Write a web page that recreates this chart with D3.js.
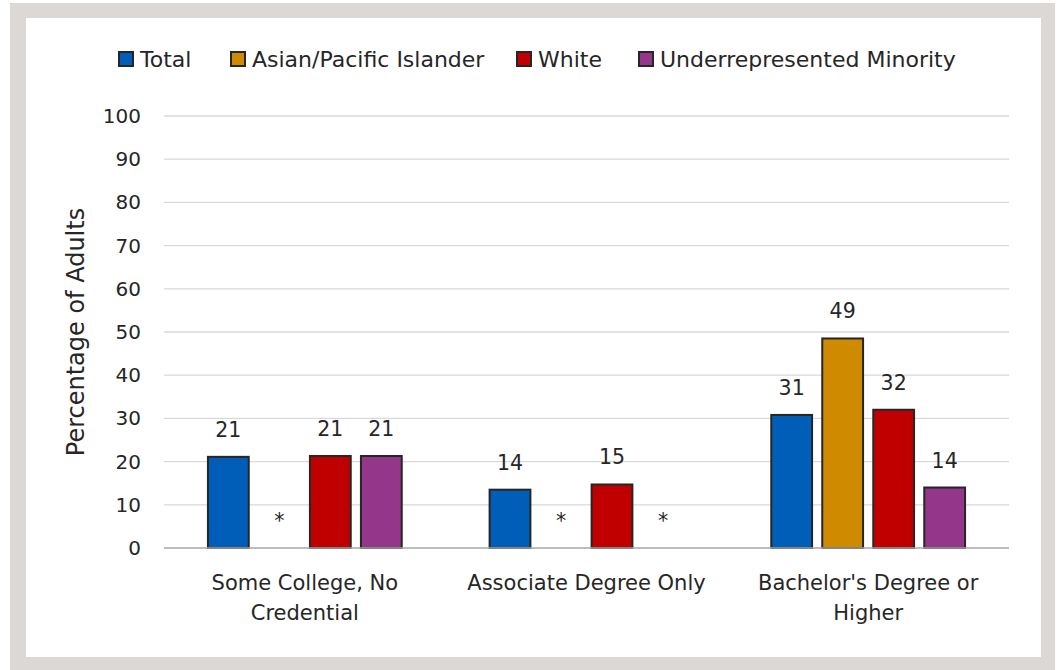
<!DOCTYPE html>
<html>
<head>
<meta charset="utf-8">
<script src="https://cdn.jsdelivr.net/npm/d3@7"></script>
<style>
  body { margin: 0; background: #fff; }
  svg { display: block; }
</style>
</head>
<body>
<div id="chart"></div>
<script>
// Chart data
const categories = ['Some College, No Credential', 'Associate Degree Only', "Bachelor's Degree or Higher"]
const categoryLines = [['Some College, No', 'Credential'], ['Associate Degree Only'], ["Bachelor's Degree or", 'Higher']]
const seriesNames = ['Total', 'Asian/Pacific Islander', 'White', 'Underrepresented Minority']
const seriesColors = ['#005eb8', '#d08a00', '#c00000', '#943689']
// null = suppressed (shown as *)
const total = [21.1, 13.5, 30.8]
const asianPacific = [null, null, 48.5]
const white = [21.3, 14.7, 32.0]
const urm = [21.3, null, 14.0]
const yTicks = [0, 10, 20, 30, 40, 50, 60, 70, 80, 90, 100]

const width = 1062,
height = 670
const font = 'DejaVu Sans, sans-serif'
const ink = '#262626'

const svg = d3.select('#chart')
.append('svg')
.attr('width', width)
.attr('height', height)

// grey frame + white panel
svg.append('rect')
.attr('x', 10).attr('y', 3)
.attr('width', 1045).attr('height', 667)
.attr('fill', '#dbd8d5')
svg.append('rect')
.attr('x', 26).attr('y', 18)
.attr('width', 1015).attr('height', 639)
.attr('fill', '#fff')

const x0 = d3.scaleBand()
.domain(categories)
.range([164, 1009])

const x1 = d3.scaleBand()
.domain(seriesNames)
.range([0, 204])
.paddingInner(0.2)
.paddingOuter(0.1)

const y = d3.scaleLinear()
.domain([0, 100])
.range([548, 116])

// gridlines
svg.append('g')
.selectAll('line')
.data(yTicks.slice(1))
.enter()
.append('line')
.attr('x1', 164).attr('x2', 1009)
.attr('y1', d => y(d)).attr('y2', d => y(d))
.attr('stroke', '#d9d9d9')
.attr('stroke-width', 1.3)

// y axis labels
const yAxis = svg.append('g')
.attr('transform', 'translate(141,0)')
.call(d3.axisLeft(y).tickValues(yTicks).tickSize(0).tickPadding(0))
yAxis.select('.domain').remove()
yAxis.selectAll('text')
.attr('font-family', font)
.attr('font-size', 20)
.attr('fill', ink)

svg.append('text')
.attr('transform', 'translate(84,332) rotate(-90)')
.attr('text-anchor', 'middle')
.attr('font-family', font)
.attr('font-size', 24)
.attr('fill', ink)
.text('Percentage of Adults')

// bars
const rows = categories.map((c, i) => ({
  cat: c,
  vals: [total[i], asianPacific[i], white[i], urm[i]]
}))

const groups = svg.selectAll('.grp')
.data(rows)
.enter()
.append('g')
.attr('class', 'grp')
.attr('transform', d => `translate(${x0(d.cat) + (x0.bandwidth() - 204) / 2},0)`)

const cells = groups.selectAll('.cell')
.data(d => d.vals.map((v, j) => ({ v: v, s: seriesNames[j], c: seriesColors[j] })))
.enter()

cells.filter(d => d.v !== null)
.append('rect')
.attr('x', d => x1(d.s))
.attr('y', d => y(d.v))
.attr('width', x1.bandwidth())
.attr('height', d => y(0) - y(d.v))
.attr('fill', d => d.c)
.attr('stroke', ink)
.attr('stroke-width', 2)

cells.append('text')
.attr('x', d => x1(d.s) + x1.bandwidth() / 2)
.attr('y', d => y(d.v === null ? 0 : d.v) - 20)
.attr('text-anchor', 'middle')
.attr('font-family', font)
.attr('font-size', 20.5)
.attr('fill', ink)
.text(d => d.v === null ? '*' : Math.round(d.v))

// baseline
svg.append('line')
.attr('x1', 164).attr('x2', 1009)
.attr('y1', y(0)).attr('y2', y(0))
.attr('stroke', '#a6a6a6')
.attr('stroke-width', 1.5)

// category labels
categoryLines.forEach((lines, i) => {
  const t = svg.append('text')
  .attr('text-anchor', 'middle')
  .attr('font-family', font)
  .attr('font-size', 21)
  .attr('fill', ink)
  lines.forEach((ln, k) => {
    t.append('tspan')
    .attr('x', x0(categories[i]) + x0.bandwidth() / 2)
    .attr('y', 590 + k * 30)
    .text(ln)
  })
})

// legend
const legendX = [119, 231, 517, 639]
const legend = svg.selectAll('.leg')
.data(seriesNames)
.enter()
.append('g')
.attr('transform', (d, i) => `translate(${legendX[i]},52)`)

legend.append('rect')
.attr('width', 14).attr('height', 14)
.attr('fill', (d, i) => seriesColors[i])
.attr('stroke', ink)
.attr('stroke-width', 2)

legend.append('text')
.attr('x', 21).attr('y', 15)
.attr('font-family', font)
.attr('font-size', 22)
.attr('fill', ink)
.text(d => d)
</script>
</body>
</html>
